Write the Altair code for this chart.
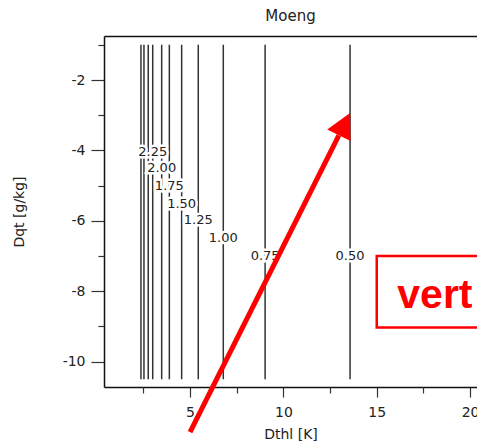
import altair as alt
import pandas as pd

# contour levels and their x positions (vertical isolines)
levels = ["3.00", "2.75", "2.50", "2.25", "2.00", "1.75", "1.50", "1.25", "1.00", "0.75", "0.50"]
line_x = [2.37, 2.53, 2.76, 3.00, 3.48, 3.89, 4.55, 5.44, 6.78, 9.02, 13.57]
line_top = [-1.0] * len(levels)
line_bottom = [-10.5] * len(levels)

# labelled contours
label_text = ["2.25", "2.00", "1.75", "1.50", "1.25", "1.00", "0.75", "0.50"]
label_x = [3.00, 3.48, 3.89, 4.55, 5.44, 6.78, 9.02, 13.57]
label_y = [-4.05, -4.50, -5.01, -5.52, -5.98, -6.49, -7.00, -7.00]

# axis ticks
x_major = [5, 10, 15, 20]
x_minor = [2.5, 7.5, 12.5, 17.5]
y_major = [-2, -4, -6, -8, -10]
y_minor = [-1, -3, -5, -7, -9]

# annotation (red arrow and box), in data units
arrow_tail = [5.0, -12.0]
arrow_base = [12.97, -3.57]
box_x = [15.0, 22.0]
box_y = [-7.0, -9.03]
box_text = ["vert"]
box_text_pos = [16.1, -8.48]

XDOM = [0.39, 20.37]
YDOM = [-10.72, -0.75]

lines = pd.DataFrame({"level": levels, "x": line_x, "y": line_top, "y2": line_bottom})
labels = pd.DataFrame({"text": label_text, "x": label_x, "y": label_y})
arrow = pd.DataFrame({"x": [arrow_tail[0]], "y": [arrow_tail[1]], "x2": [arrow_base[0]], "y2": [arrow_base[1]]})
head = pd.DataFrame({"x": [arrow_base[0]], "y": [arrow_base[1]]})
box = pd.DataFrame({"x": [box_x[0]], "x2": [box_x[1]], "y": [box_y[0]], "y2": [box_y[1]]})
btxt = pd.DataFrame({"text": box_text, "x": [box_text_pos[0]], "y": [box_text_pos[1]]})

xs = alt.Scale(domain=XDOM, nice=False, zero=False)
ys = alt.Scale(domain=YDOM, nice=False, zero=False)

FONT = "DejaVu Sans"

x_axis_major = alt.Axis(
    orient="bottom", values=x_major, format="d", tickSize=10, labelPadding=8,
    title="Dthl [K]", titlePadding=8, domain=True, grid=False,
)
x_axis_minor = alt.Axis(
    orient="bottom", values=x_minor, tickSize=6, labels=False, title=None, domain=False, grid=False,
)
x_axis_top = alt.Axis(orient="top", labels=False, ticks=False, title=None, domain=True, grid=False)

y_axis_major = alt.Axis(
    orient="left", values=y_major,
    labelExpr="'-' + format(abs(datum.value), 'd')",
    tickSize=13, labelPadding=6, title="Dqt [g/kg]", titlePadding=36, domain=True, grid=False,
)
y_axis_minor = alt.Axis(
    orient="left", values=y_minor, tickSize=6, labels=False, title=None, domain=False, grid=False,
)

rules = alt.Chart(lines).mark_rule(color="#333333", strokeWidth=1.5).encode(
    x=alt.X("x:Q", scale=xs, axis=x_axis_major),
    y=alt.Y("y:Q", scale=ys, axis=y_axis_major),
    y2="y2:Q",
)

halo = alt.Chart(labels).mark_text(
    font=FONT, fontSize=13, stroke="white", strokeWidth=5, fill="white", align="center", baseline="middle"
).encode(
    x=alt.X("x:Q", scale=xs, axis=x_axis_minor),
    y=alt.Y("y:Q", scale=ys, axis=y_axis_minor),
    text="text:N",
)
txt = alt.Chart(labels).mark_text(
    font=FONT, fontSize=13, color="#222222", align="center", baseline="middle"
).encode(
    x=alt.X("x:Q", scale=xs, axis=None),
    y=alt.Y("y:Q", scale=ys, axis=None),
    text="text:N",
)

arrow_line = alt.Chart(arrow).mark_rule(color="#ff0000", strokeWidth=5, strokeCap="butt").encode(
    x=alt.X("x:Q", scale=xs, axis=None),
    y=alt.Y("y:Q", scale=ys, axis=None),
    x2="x2:Q",
    y2="y2:Q",
)
arrow_head = alt.Chart(head).mark_point(
    shape="M0,-1L-0.52,0L0.52,0Z", size=2500, angle=26.6, filled=True, fill="#ff0000",
    strokeWidth=0, opacity=1,
).encode(
    x=alt.X("x:Q", scale=xs, axis=None),
    y=alt.Y("y:Q", scale=ys, axis=None),
)

box_rect = alt.Chart(box).mark_rect(filled=False, stroke="#ff0000", strokeWidth=2.5).encode(
    x=alt.X("x:Q", scale=xs, axis=x_axis_top),
    x2="x2:Q",
    y=alt.Y("y:Q", scale=ys, axis=None),
    y2="y2:Q",
)
box_label = alt.Chart(btxt).mark_text(
    font="Liberation Sans", fontSize=41, fontWeight="bold", color="#ff0000", align="left", baseline="alphabetic"
).encode(
    x=alt.X("x:Q", scale=xs, axis=None),
    y=alt.Y("y:Q", scale=ys, axis=None),
    text="text:N",
)

chart = alt.layer(rules, halo, txt, arrow_line, arrow_head, box_rect, box_label).resolve_axis(
    x="independent", y="independent"
).properties(
    width=373,
    height=351,
    title=alt.TitleParams("Moeng", font=FONT, fontSize=15, fontWeight="normal", color="#222222", offset=12),
    autosize=alt.AutoSizeParams(type="none"),
    padding={"left": 104, "top": 36, "right": 0, "bottom": 59},
).configure_view(stroke=None).configure_axis(
    labelFont=FONT, labelFontSize=14, labelColor="#222222",
    titleFont=FONT, titleFontSize=14, titleFontWeight="normal", titleColor="#222222",
    domainColor="#111111", domainWidth=1.5, tickColor="#333333", tickWidth=1.2,
)

chart.save("out.html", embed_options={"renderer": "svg", "actions": False})
